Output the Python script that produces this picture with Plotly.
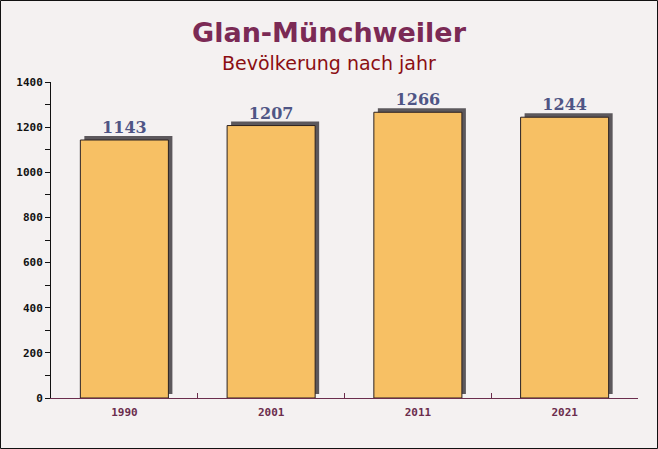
import plotly.graph_objects as go

# data
years = ["1990", "2001", "2011", "2021"]
population = [1143, 1207, 1266, 1244]

W, H = 658, 449
ml, mr, mt, mb = 51, 20, 82, 51
ymax = 1400
plot_w = W - ml - mr
plot_h = H - mt - mb

# shadow offset of about 4px, converted into axis units
dy = 4 * ymax / plot_h
dx = 4 / (plot_w / len(years))

def py(pix):
    # pixel row from the top of the figure -> paper y
    return (H - mb - pix) / plot_h

fig = go.Figure()

# dark shadow behind each bar
fig.add_trace(go.Bar(
    x=years, y=population, base=[dy] * len(years),
    width=0.6, offset=-0.3 + dx,
    marker=dict(color="#5c585c", line=dict(width=0)),
    hoverinfo="skip", showlegend=False,
))

fig.add_trace(go.Bar(
    x=years, y=population,
    width=0.6, offset=-0.3,
    marker=dict(color="rgb(247,192,100)", line=dict(color="#2b2020", width=1)),
    text=[str(v) for v in population], textposition="outside",
    textfont=dict(family="DejaVu Serif", size=16, color="#4f5585", weight="bold"),
    cliponaxis=False, showlegend=False,
))

fig.update_layout(
    width=W, height=H,
    margin=dict(l=ml, r=mr, t=mt, b=mb),
    barmode="overlay",
    paper_bgcolor="#f4f1f1",
    plot_bgcolor="#f4f1f1",
    xaxis=dict(
        showgrid=False, showline=True, linecolor="#6b2d4d", linewidth=1,
        ticks="inside", tickson="boundaries", ticklen=5, tickcolor="#6b2d4d",
        ticklabelstandoff=4,
        tickfont=dict(family="DejaVu Sans Mono", size=11, color="#6b2d4d", weight="bold"),
    ),
    yaxis=dict(
        range=[0, ymax], dtick=200, showgrid=False, zeroline=False,
        showline=True, linecolor="#111", linewidth=1,
        ticks="outside", ticklen=5, tickcolor="#111",
        minor=dict(dtick=100, ticks="outside", ticklen=5, tickcolor="#111"),
        tickfont=dict(family="DejaVu Sans Mono", size=11, color="#111", weight="bold"),
    ),
    annotations=[
        dict(text="<b>Glan-Münchweiler</b>", xref="paper", yref="paper",
             x=0.5 - (ml - mr) / 2 / plot_w, y=py(32), xanchor="center", yanchor="middle",
             showarrow=False, font=dict(family="DejaVu Sans", size=27, color="#7b2a55")),
        dict(text="Bevölkerung nach jahr", xref="paper", yref="paper",
             x=0.5 - (ml - mr) / 2 / plot_w, y=py(63), xanchor="center", yanchor="middle",
             showarrow=False, font=dict(family="DejaVu Sans", size=19, color="#8b0e12")),
    ],
    shapes=[dict(
        type="rect", xref="paper", yref="paper",
        x0=-(ml - 0.5) / plot_w, x1=1 + (mr - 0.5) / plot_w,
        y0=-(mb - 0.5) / plot_h, y1=1 + (mt - 0.5) / plot_h,
        line=dict(color="#111", width=1), fillcolor="rgba(0,0,0,0)", layer="above",
    )],
)

fig.write_html("out.html", config={"displayModeBar": False},
               post_script="document.body.style.margin='0';")
